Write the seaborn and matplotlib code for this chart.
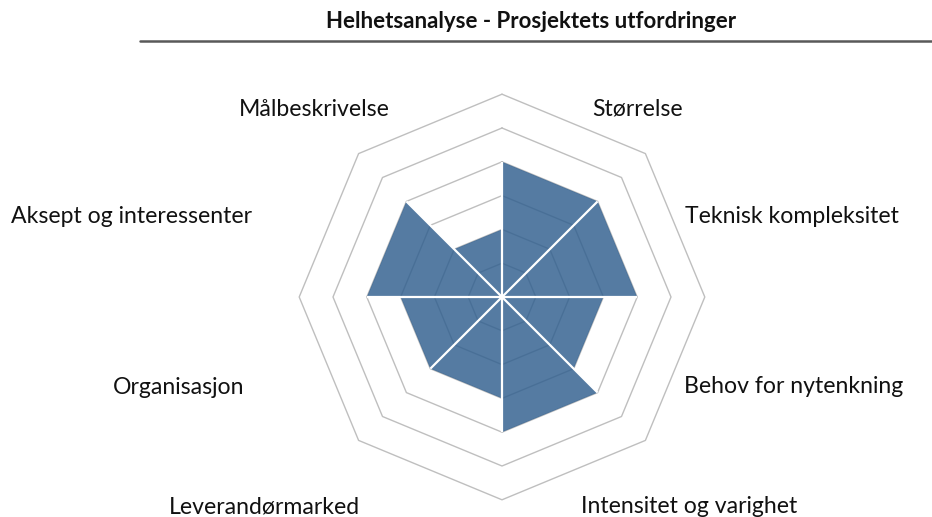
import numpy as np
import matplotlib
matplotlib.use("Agg")
import matplotlib.pyplot as plt
import seaborn as sns

# ── Data ─────────────────────────────────────────────────────────────────────
categories = ["Størrelse", "Teknisk kompleksitet", "Behov for nytenkning",
              "Intensitet og varighet", "Leverandørmarked", "Organisasjon",
              "Aksept og interessenter", "Målbeskrivelse"]
scores = [4, 4, 3, 4, 3, 3, 4, 2]
ring_levels = [1, 2, 3, 4, 5, 6]
title = "Helhetsanalyse - Prosjektets utfordringer"

# ── Style ────────────────────────────────────────────────────────────────────
sns.set_theme(style="white")
plt.rcParams["font.family"] = ["Lato", "DejaVu Sans"]

FILL = "#2F5E8E"
GRID = "#BFBFBF"
TEXT = "#111111"

W, H, DPI = 932, 517, 100
CX, CY, UNIT = 502, 297, 33.8   # centre + pixels per score unit

# label anchors (dx, dy in score units from centre, alignment)
label_pos = [(2.66, 5.56, "left"), (5.41, 2.37, "left"), (5.38, -2.66, "left"),
             (2.34, -6.21, "left"), (-4.20, -6.21, "right"), (-7.63, -2.69, "right"),
             (-7.40, 2.37, "right"), (-3.31, 5.56, "right")]

fig = plt.figure(figsize=(W / DPI, H / DPI), dpi=DPI, facecolor="white")
ax = fig.add_axes([0, 0, 1, 1])
ax.set_xlim(-CX / UNIT, (W - CX) / UNIT)
ax.set_ylim(-(H - CY) / UNIT, CY / UNIT)
ax.axis("off")

n = len(categories)
ang = np.deg2rad(np.arange(n + 1) * 360 / n)   # clockwise from top

# octagon grid
for r in ring_levels:
    ax.plot(r * np.sin(ang), r * np.cos(ang), color=GRID, lw=1.0, zorder=1)

# one wedge per category
for i, v in enumerate(scores):
    xs = [0, v * np.sin(ang[i]), v * np.sin(ang[i + 1])]
    ys = [0, v * np.cos(ang[i]), v * np.cos(ang[i + 1])]
    ax.fill(xs, ys, color=FILL, alpha=0.82, lw=0, zorder=2)

# white spokes between wedges
for i in range(n):
    reach = max(scores[i], scores[i - 1])
    ax.plot([0, reach * np.sin(ang[i])], [0, reach * np.cos(ang[i])],
            color="white", lw=1.6, zorder=3, solid_capstyle="butt")

for lab, (dx, dy, ha) in zip(categories, label_pos):
    ax.text(dx, dy, lab, ha=ha, va="center", fontsize=16.6, color=TEXT)

fig.text(0.570, 1 - 22 / H, title, ha="center", va="center",
         fontsize=16, fontweight="bold", color=TEXT)
fig.add_artist(plt.Line2D([140 / W, 1.0], [1 - 41 / H, 1 - 41 / H],
                          color="#595959", lw=1.8, transform=fig.transFigure))

plt.savefig("out.png", dpi=DPI, facecolor="white")
plt.close()
